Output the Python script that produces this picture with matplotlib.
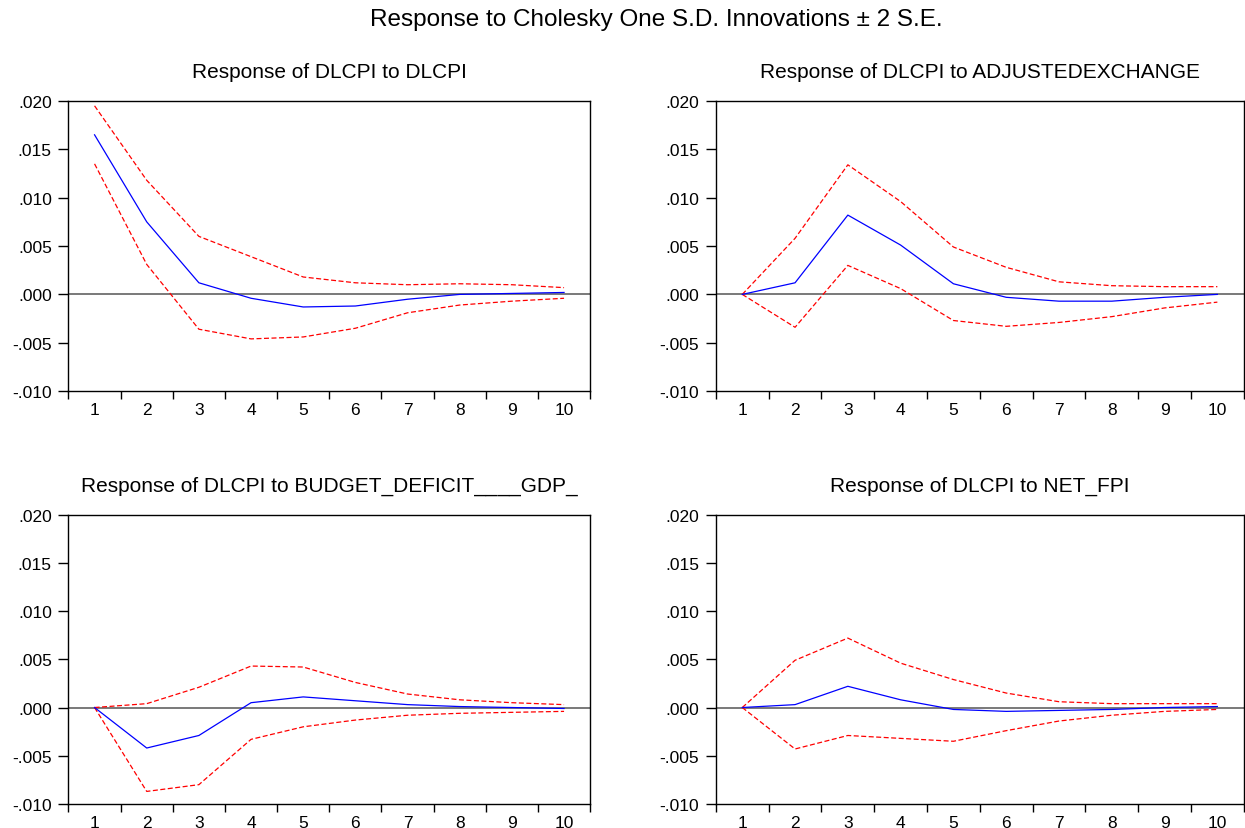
import matplotlib
matplotlib.use('Agg')
import matplotlib.pyplot as plt
import numpy as np

plt.rcParams['font.family'] = ['Liberation Sans', 'DejaVu Sans']

periods = np.arange(1, 11)

# --- Response of DLCPI to DLCPI ---
resp_dlcpi = [0.0165, 0.0075, 0.0012, -0.0004, -0.0013, -0.0012, -0.0005, 0.0000, 0.0001, 0.0002]
upper_dlcpi = [0.0195, 0.0118, 0.0060, 0.0039, 0.0018, 0.0012, 0.0010, 0.0011, 0.0010, 0.0007]
lower_dlcpi = [0.0135, 0.0031, -0.0036, -0.0046, -0.0044, -0.0035, -0.0019, -0.0011, -0.0007, -0.0004]

# --- Response of DLCPI to ADJUSTEDEXCHANGE ---
resp_exch = [0.0, 0.0012, 0.0082, 0.0051, 0.0011, -0.0003, -0.0007, -0.0007, -0.0003, 0.0000]
upper_exch = [0.0, 0.0058, 0.0134, 0.0096, 0.0049, 0.0028, 0.0013, 0.0009, 0.0008, 0.0008]
lower_exch = [0.0, -0.0034, 0.0030, 0.0006, -0.0027, -0.0033, -0.0029, -0.0023, -0.0014, -0.0008]

# --- Response of DLCPI to BUDGET_DEFICIT____GDP_ ---
resp_budget = [0.0, -0.0042, -0.0029, 0.0005, 0.0011, 0.0007, 0.0003, 0.0001, 0.0000, -0.0001]
upper_budget = [0.0, 0.0004, 0.0021, 0.0043, 0.0042, 0.0026, 0.0014, 0.0008, 0.0005, 0.0003]
lower_budget = [0.0, -0.0087, -0.0080, -0.0033, -0.0020, -0.0013, -0.0008, -0.0006, -0.0005, -0.0004]

# --- Response of DLCPI to NET_FPI ---
resp_fpi = [0.0, 0.0003, 0.0022, 0.0008, -0.0002, -0.0004, -0.0003, -0.0002, 0.0000, 0.0001]
upper_fpi = [0.0, 0.0049, 0.0072, 0.0046, 0.0029, 0.0015, 0.0006, 0.0004, 0.0004, 0.0004]
lower_fpi = [0.0, -0.0043, -0.0029, -0.0032, -0.0035, -0.0024, -0.0014, -0.0008, -0.0004, -0.0002]

titles = [
    "Response of DLCPI to DLCPI",
    "Response of DLCPI to ADJUSTEDEXCHANGE",
    "Response of DLCPI to BUDGET_DEFICIT____GDP_",
    "Response of DLCPI to NET_FPI",
]
series = [
    (resp_dlcpi, upper_dlcpi, lower_dlcpi),
    (resp_exch, upper_exch, lower_exch),
    (resp_budget, upper_budget, lower_budget),
    (resp_fpi, upper_fpi, lower_fpi),
]
y_ticks = [-0.010, -0.005, 0.0, 0.005, 0.010, 0.015, 0.020]
y_labels = ["-.010", "-.005", ".000", ".005", ".010", ".015", ".020"]

# axes rectangles in figure fractions (left, bottom, width, height)
rects = [
    (0.055, 0.527, 0.419, 0.350),
    (0.575, 0.527, 0.424, 0.350),
    (0.055, 0.029, 0.419, 0.349),
    (0.575, 0.029, 0.424, 0.349),
]

fig = plt.figure(figsize=(12.45, 8.29), dpi=100)

for rect, title, (resp, upper, lower) in zip(rects, titles, series):
    ax = fig.add_axes(rect)
    ax.axhline(0, color='#555555', linewidth=1.1, zorder=1)
    ax.plot(periods, upper, color='red', linestyle=(0, (4, 2)), linewidth=0.9, zorder=2)
    ax.plot(periods, lower, color='red', linestyle=(0, (4, 2)), linewidth=0.9, zorder=2)
    ax.plot(periods, resp, color='blue', linewidth=0.9, zorder=3)
    ax.set_xlim(0.5, 10.5)
    ax.set_ylim(-0.010, 0.020)
    ax.set_yticks(y_ticks)
    ax.set_yticklabels(y_labels, fontsize=12.5)
    # tick marks between periods, labels at period centres
    ax.set_xticks(np.arange(0.5, 11, 1.0))
    ax.set_xticklabels([])
    ax.set_xticks(periods, minor=True)
    ax.set_xticklabels([str(p) for p in periods], minor=True, fontsize=12.5)
    ax.tick_params(axis='x', which='minor', length=0, pad=8)
    ax.tick_params(axis='x', which='major', direction='out', length=6, width=1)
    ax.tick_params(axis='y', direction='out', length=7, width=1, pad=5)
    for sp in ax.spines.values():
        sp.set_linewidth(1.0)
    ax.set_title(title, fontsize=15, pad=17)

fig.text(0.527, 1 - 20 / 829, "Response to Cholesky One S.D. Innovations \u00b1 2 S.E.",
         fontsize=17.5, ha='center', va='center')

fig.savefig("out.png", dpi=100)
